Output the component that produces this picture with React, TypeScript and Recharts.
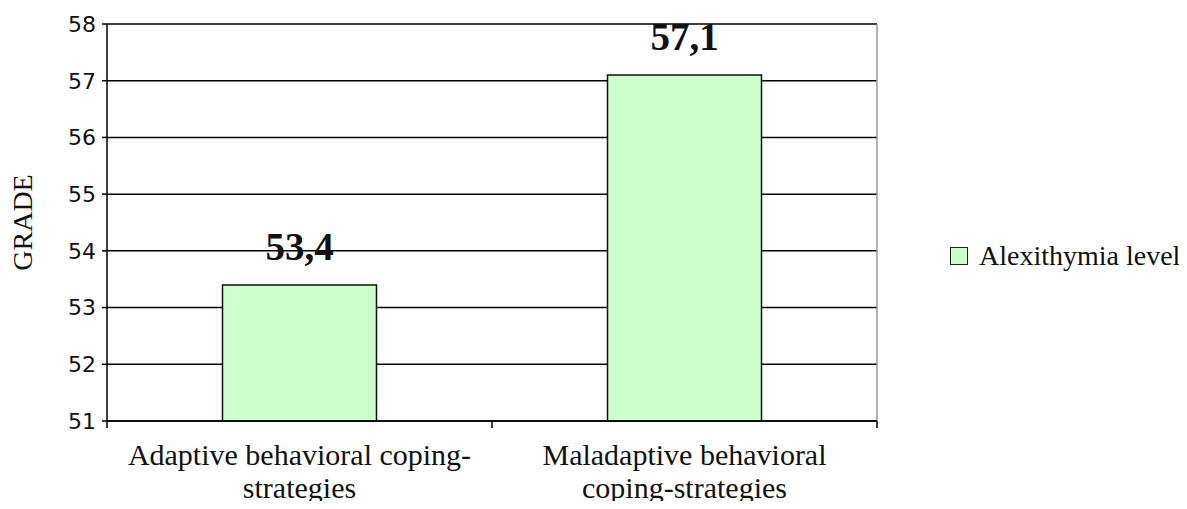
import React from "react";
import { BarChart, Bar, XAxis, YAxis, CartesianGrid, LabelList } from "recharts";

const categories = ["Adaptive behavioral coping-\nstrategies", "Maladaptive behavioral\ncoping-strategies"];
const values = [53.4, 57.1];
const yTicks = [51, 52, 53, 54, 55, 56, 57, 58];
const seriesName = "Alexithymia level";
const yLabel = "GRADE";

const data = categories.map((c, i) => ({ name: c, value: values[i] }));

const serif = "'Liberation Serif', 'Times New Roman', serif";

const XTick = (props: any) => {
  const { x, y, payload, index } = props;
  const lines = String(payload.value).split("\n");
  const half = payload.offset || 0;
  const axisY = y - 8;
  const isLast = index === categories.length - 1;
  return (
    <g>
      <line x1={x - half} x2={x - half} y1={axisY} y2={axisY + 7} stroke="#000" strokeWidth={1.5} />
      {isLast && <line x1={x + half} x2={x + half} y1={axisY} y2={axisY + 7} stroke="#000" strokeWidth={1.5} />}
      {lines.map((l, i) => (
        <text key={i} x={x} y={y + 36 + i * 33} textAnchor="middle" fontFamily={serif} fontSize={30} fill="#111">
          {l}
        </text>
      ))}
    </g>
  );
};

const ValueLabel = (props: any) => {
  const { x, y, width, value } = props;
  return (
    <text x={x + width / 2} y={y - 25} textAnchor="middle" fontFamily={serif} fontWeight="bold" fontSize={39} fill="#111">
      {String(value).replace(".", ",")}
    </text>
  );
};

export default function App() {
  return (
    <div style={{ margin: -8, width: 1187, height: 509, background: "#fff", position: "relative", overflow: "hidden" }}>
      <BarChart width={1187} height={509} data={data} margin={{ top: 24, right: 310, bottom: 0, left: 0 }} barCategoryGap="30%">
        <CartesianGrid vertical={false} stroke="#000" strokeWidth={1.5} />
        <CartesianGrid horizontal={false} stroke="#999" strokeWidth={1.5} verticalCoordinatesGenerator={({ offset }: any) => [offset.left + offset.width]} />
        <XAxis dataKey="name" tick={<XTick />} tickLine={false} axisLine={{ stroke: "#000", strokeWidth: 1.5 }} interval={0} height={88} />
        <YAxis
          domain={[51, 58]}
          ticks={yTicks}
          width={107}
          tickSize={5}
          tickMargin={6}
          tickLine={{ stroke: "#000", strokeWidth: 1.5 }}
          axisLine={{ stroke: "#000", strokeWidth: 1.5 }}
          tick={{ fontFamily: "'DejaVu Sans', sans-serif", fontSize: 22, fill: "#111" }}
          label={{ value: yLabel, angle: -90, position: "insideLeft", dx: 17, fontFamily: serif, fontSize: 28, fill: "#111", style: { textAnchor: "middle" } }}
        />
        <Bar dataKey="value" name={seriesName} fill="#ccffcc" stroke="#111" strokeWidth={1.5} isAnimationActive={false}>
          <LabelList dataKey="value" content={<ValueLabel />} />
        </Bar>
      </BarChart>
      <div style={{ position: "absolute", left: 950, top: 240, display: "flex", alignItems: "center", fontFamily: serif, fontSize: 28, color: "#111", whiteSpace: "nowrap" }}>
        <span style={{ display: "inline-block", width: 16, height: 16, background: "#ccffcc", border: "1.5px solid #222", marginRight: 11 }} />
        {seriesName}
      </div>
    </div>
  );
}
